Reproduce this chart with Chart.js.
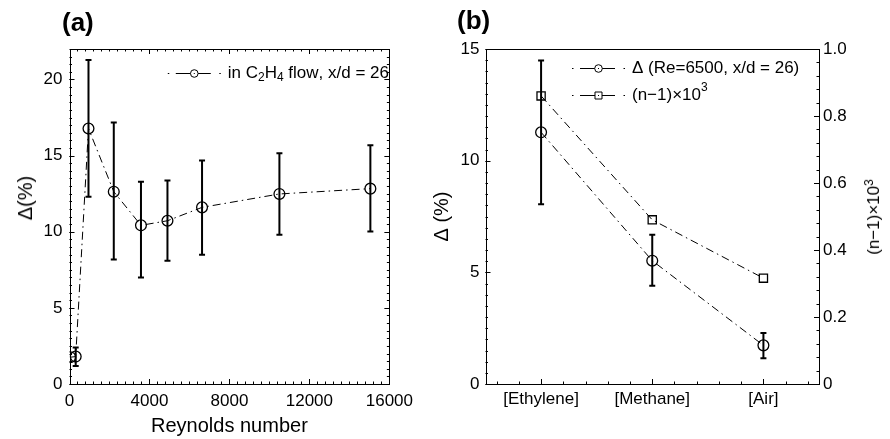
<!DOCTYPE html>
<html><head><meta charset="utf-8">
<script src="https://cdn.jsdelivr.net/npm/chart.js@4/dist/chart.umd.min.js"></script>
<style>
html,body{margin:0;padding:0;background:#fff;}
body{width:890px;height:439px;position:relative;overflow:hidden;font-family:"Liberation Sans",Arial,Helvetica,sans-serif;color:#000;}
#ca{position:absolute;left:0;top:0;}
#cb{position:absolute;left:420px;top:0;}
.plab{position:absolute;font-weight:bold;font-size:26px;line-height:26px;white-space:nowrap;}
.vt{position:absolute;transform:translate(-50%,-50%) rotate(-90deg);white-space:nowrap;line-height:20px;}
#rt{left:874px;top:217px;font-size:17px;}
#rt sup{font-size:12px;vertical-align:6px;line-height:0;}
#lt{left:25px;top:198px;font-size:20px;}
</style></head><body>
<canvas id="ca" width="420" height="439"></canvas>
<canvas id="cb" width="470" height="439"></canvas>
<div class="plab" style="left:62px;top:9px">(a)</div>
<div class="plab" style="left:457px;top:7px">(b)</div>
<div class="vt" id="lt">Δ(%)</div>
<div class="vt" id="rt">(n−1)×10<sup>3</sup></div>
<script>
// ---------- data: panel (a) ----------
const reynolds  = [40, 310, 950, 2215, 3575, 4900, 6630, 10500, 15050];
const deltaA    = [1.76, 1.80, 16.78, 12.63, 10.42, 10.72, 11.60, 12.48, 12.83];
const deltaALow = [null, 1.18, 12.30, 8.18, 7.00, 8.09, 8.49, 9.80, 10.02];
const deltaAHigh= [null, 2.39, 21.27, 17.17, 13.29, 13.36, 14.67, 15.15, 15.68];
const xTicksA   = [0, 4000, 8000, 12000, 16000];
const yTicksA   = [0, 5, 10, 15, 20];

// ---------- data: panel (b) ----------
const gases      = ['[Ethylene]', '[Methane]', '[Air]'];
const deltaB     = [11.27, 5.52, 1.73];
const deltaBLow  = [8.05, 4.40, 1.15];
const deltaBHigh = [14.49, 6.68, 2.28];
const nMinus1    = [0.86, 0.49, 0.316];
const yTicksB    = [0, 5, 10, 15];
const y2TicksB   = [0, 0.2, 0.4, 0.6, 0.8, 1.0];
const y2LabelsB  = ['0', '0.2', '0.4', '0.6', '0.8', '1.0'];

const FONT = '"Liberation Sans", Arial, Helvetica, sans-serif';
const DASH = [8, 4, 1.5, 4];

// per-chart decoration settings (keyed by canvas id)
const AXES_CONF = {
  ca: [
    {id: 'x', sides: ['bottom', 'top'], minor: 400, start: 0},
    {id: 'y', sides: ['left', 'right'], minor: 0.5, start: 0}
  ],
  cb: [
    {id: 'x', sides: ['bottom'], minor: 0.2, start: 0.6},
    {id: 'y', sides: ['left'], minor: 0.5, start: 0},
    {id: 'y2', sides: ['right'], minor: 0.04, start: 0}
  ]
};
const LEGEND_CONF = {
  ca: {right: 389, items: [{ds: 0, y: 73}]},
  cb: {x: 152, items: [{ds: 0, y: 68}, {ds: 1, y: 95}]}
};

// box + inward ticks
const matlabAxes = {
  id: 'matlabAxes',
  afterDraw(chart) {
    const conf = AXES_CONF[chart.canvas.id] || [];
    const ctx = chart.ctx, a = chart.chartArea;
    ctx.save();
    ctx.strokeStyle = '#000';
    ctx.lineWidth = 1;
    ctx.setLineDash([]);
    ctx.strokeRect(Math.round(a.left) + 0.5, Math.round(a.top) + 0.5,
                   Math.round(a.right) - Math.round(a.left), Math.round(a.bottom) - Math.round(a.top));
    for (const t of conf) {
      const s = chart.scales[t.id];
      if (!s) continue;
      const mark = (v, len) => {
        const p = Math.round(s.getPixelForValue(v)) + 0.5;
        for (const side of t.sides) {
          ctx.beginPath();
          if (side === 'bottom') { ctx.moveTo(p, a.bottom); ctx.lineTo(p, a.bottom - len); }
          if (side === 'top')    { ctx.moveTo(p, a.top);    ctx.lineTo(p, a.top + len); }
          if (side === 'left')   { ctx.moveTo(a.left, p);   ctx.lineTo(a.left + len, p); }
          if (side === 'right')  { ctx.moveTo(a.right, p);  ctx.lineTo(a.right - len, p); }
          ctx.stroke();
        }
      };
      const n = Math.round((s.max - t.start) / t.minor);
      for (let i = 0; i <= n; i++) mark(t.start + i * t.minor, 2.5);
      for (const tk of s.ticks) mark(tk.value, 5);
    }
    ctx.restore();
  }
};

// vertical error bars from dataset errLow / errHigh
const errorBars = {
  id: 'errorBars',
  afterDatasetsDraw(chart) {
    const ctx = chart.ctx;
    ctx.save();
    ctx.strokeStyle = '#000';
    ctx.lineWidth = 2;
    ctx.setLineDash([]);
    chart.data.datasets.forEach((ds, di) => {
      if (!ds.errLow) return;
      const meta = chart.getDatasetMeta(di);
      const xs = chart.scales[meta.xAxisID], ys = chart.scales[meta.yAxisID];
      ds.data.forEach((pt, i) => {
        const lo = ds.errLow[i], hi = ds.errHigh[i];
        if (lo == null || hi == null) return;
        const x = xs.getPixelForValue(pt.x);
        const y1 = ys.getPixelForValue(lo), y2 = ys.getPixelForValue(hi);
        ctx.beginPath();
        ctx.moveTo(x, y1); ctx.lineTo(x, y2);
        ctx.moveTo(x - 3, y1); ctx.lineTo(x + 3, y1);
        ctx.moveTo(x - 3, y2); ctx.lineTo(x + 3, y2);
        ctx.stroke();
      });
    });
    ctx.restore();
  }
};

// text with sub/superscript digits drawn like TeX
const SUB = '₀₁₂₃₄₅₆₇₈₉', SUP = '⁰¹²³⁴⁵⁶⁷⁸⁹';
function richText(ctx, text, x, y, draw) {
  let cx = x;
  for (const ch of text) {
    let c = ch, size = 17, dy = 0;
    const si = SUB.indexOf(ch), pi = SUP.indexOf(ch);
    if (si >= 0) { c = String(si); size = 12; dy = 5; }
    else if (pi >= 0) { c = String(pi); size = 12; dy = -7; }
    ctx.font = size + 'px ' + FONT;
    if (draw) ctx.fillText(c, cx, y + dy);
    cx += ctx.measureText(c).width;
  }
  return cx - x;
}

// MATLAB-like legend: ·—o—· label
const lineLegend = {
  id: 'lineLegend',
  afterDraw(chart) {
    const conf = LEGEND_CONF[chart.canvas.id];
    if (!conf) return;
    const ctx = chart.ctx;
    ctx.save();
    ctx.textBaseline = 'middle';
    ctx.textAlign = 'left';
    ctx.strokeStyle = '#000';
    for (const it of conf.items) {
      const ds = chart.data.datasets[it.ds];
      const w = richText(ctx, ds.label, 0, 0, false);
      let tx, sx;
      if (conf.right !== undefined) { tx = conf.right - w; sx = tx - 7 - 53; }
      else { sx = conf.x; tx = sx + 53 + 7; }
      const y = it.y;
      ctx.lineWidth = 1;
      ctx.setLineDash([1.5, 6.5, 35, 8.5, 1.5, 100]);
      ctx.beginPath(); ctx.moveTo(sx, y + 0.5); ctx.lineTo(sx + 53, y + 0.5); ctx.stroke();
      ctx.setLineDash([]);
      const cx = sx + 26.5;
      ctx.fillStyle = '#fff';
      ctx.beginPath();
      if (ds.pointStyle === 'rect') ctx.rect(cx - 3.5, y - 3, 7, 7);
      else ctx.arc(cx, y + 0.5, 3.8, 0, Math.PI * 2);
      ctx.fill(); ctx.stroke();
      ctx.fillStyle = '#000';
      ctx.fillRect(cx - 0.5, y, 1, 1);
      richText(ctx, ds.label, tx, y, true);
    }
    ctx.restore();
  }
};

Chart.register(matlabAxes, errorBars, lineLegend);

function tickFixer(vals) { return s => { s.ticks = vals.map(v => ({value: v})); }; }
const GRID_OFF = {display: false, drawTicks: false};

// ---------- chart (a) ----------
new Chart(document.getElementById('ca'), {
  type: 'scatter',
  data: {
    datasets: [{
      label: 'in C₂H₄ flow, x/d = 26',
      data: reynolds.map((x, i) => ({x: x, y: deltaA[i]})),
      errLow: deltaALow, errHigh: deltaAHigh,
      showLine: true, borderColor: '#000', borderWidth: 1, borderDash: DASH,
      pointStyle: 'circle', pointRadius: 5.4, pointBorderWidth: 1.3,
      pointBorderColor: '#000', pointBackgroundColor: 'rgba(0,0,0,0)'
    }]
  },
  options: {
    responsive: false, animation: false, devicePixelRatio: 1,
    layout: {padding: {top: 49, right: 17, bottom: 0, left: 0}},
    plugins: {legend: {display: false}, tooltip: {enabled: false}},
    scales: {
      x: {
        type: 'linear', min: 0, max: 16000,
        afterBuildTicks: tickFixer(xTicksA),
        afterFit: s => { s.height = 55; },
        grid: GRID_OFF, border: {display: false},
        ticks: {color: '#000', font: {size: 17, family: FONT}, padding: 7, maxRotation: 0, callback: v => String(v)},
        title: {display: true, text: 'Reynolds number', color: '#000', font: {size: 20, family: FONT}, padding: {top: 0, bottom: 1}}
      },
      y: {
        type: 'linear', min: 0, max: 22,
        afterBuildTicks: tickFixer(yTicksA),
        afterFit: s => { s.width = 69.5; },
        grid: GRID_OFF, border: {display: false},
        ticks: {color: '#000', font: {size: 17, family: FONT}, padding: 7}
      }
    }
  }
});

// ---------- chart (b) ----------
new Chart(document.getElementById('cb'), {
  type: 'scatter',
  data: {
    datasets: [{
      label: 'Δ (Re=6500, x/d = 26)',
      data: gases.map((g, i) => ({x: i + 1, y: deltaB[i]})),
      errLow: deltaBLow, errHigh: deltaBHigh,
      yAxisID: 'y',
      showLine: true, borderColor: '#000', borderWidth: 1, borderDash: DASH,
      pointStyle: 'circle', pointRadius: 5.4, pointBorderWidth: 1.3,
      pointBorderColor: '#000', pointBackgroundColor: 'rgba(0,0,0,0)'
    }, {
      label: '(n−1)×10³',
      data: gases.map((g, i) => ({x: i + 1, y: nMinus1[i]})),
      yAxisID: 'y2',
      showLine: true, borderColor: '#000', borderWidth: 1, borderDash: DASH,
      pointStyle: 'rect', pointRadius: 5.8, pointBorderWidth: 1.3,
      pointBorderColor: '#000', pointBackgroundColor: 'rgba(0,0,0,0)'
    }]
  },
  options: {
    responsive: false, animation: false, devicePixelRatio: 1,
    layout: {padding: {top: 49, right: 0, bottom: 0, left: 0}},
    plugins: {legend: {display: false}, tooltip: {enabled: false}},
    scales: {
      x: {
        type: 'linear', min: 0.5, max: 3.5,
        afterBuildTicks: tickFixer([1, 2, 3]),
        afterFit: s => { s.height = 55; },
        grid: GRID_OFF, border: {display: false},
        ticks: {color: '#000', font: {size: 17, family: FONT}, padding: 5, maxRotation: 0,
                callback: v => gases[Math.round(v) - 1] || ''}
      },
      y: {
        type: 'linear', position: 'left', min: 0, max: 15,
        afterBuildTicks: tickFixer(yTicksB),
        afterFit: s => { s.width = 65.5; },
        grid: GRID_OFF, border: {display: false},
        ticks: {color: '#000', font: {size: 17, family: FONT}, padding: 6},
        title: {display: true, text: 'Δ (%)', color: '#000', font: {size: 20, family: FONT}, padding: {top: 10, bottom: 0}}
      },
      y2: {
        type: 'linear', position: 'right', min: 0, max: 1,
        afterBuildTicks: tickFixer(y2TicksB),
        afterFit: s => { s.width = 71; },
        grid: GRID_OFF, border: {display: false},
        ticks: {color: '#000', font: {size: 17, family: FONT}, padding: 4,
                callback: (v, i) => y2LabelsB[i]}
      }
    }
  }
});
</script>
</body></html>
